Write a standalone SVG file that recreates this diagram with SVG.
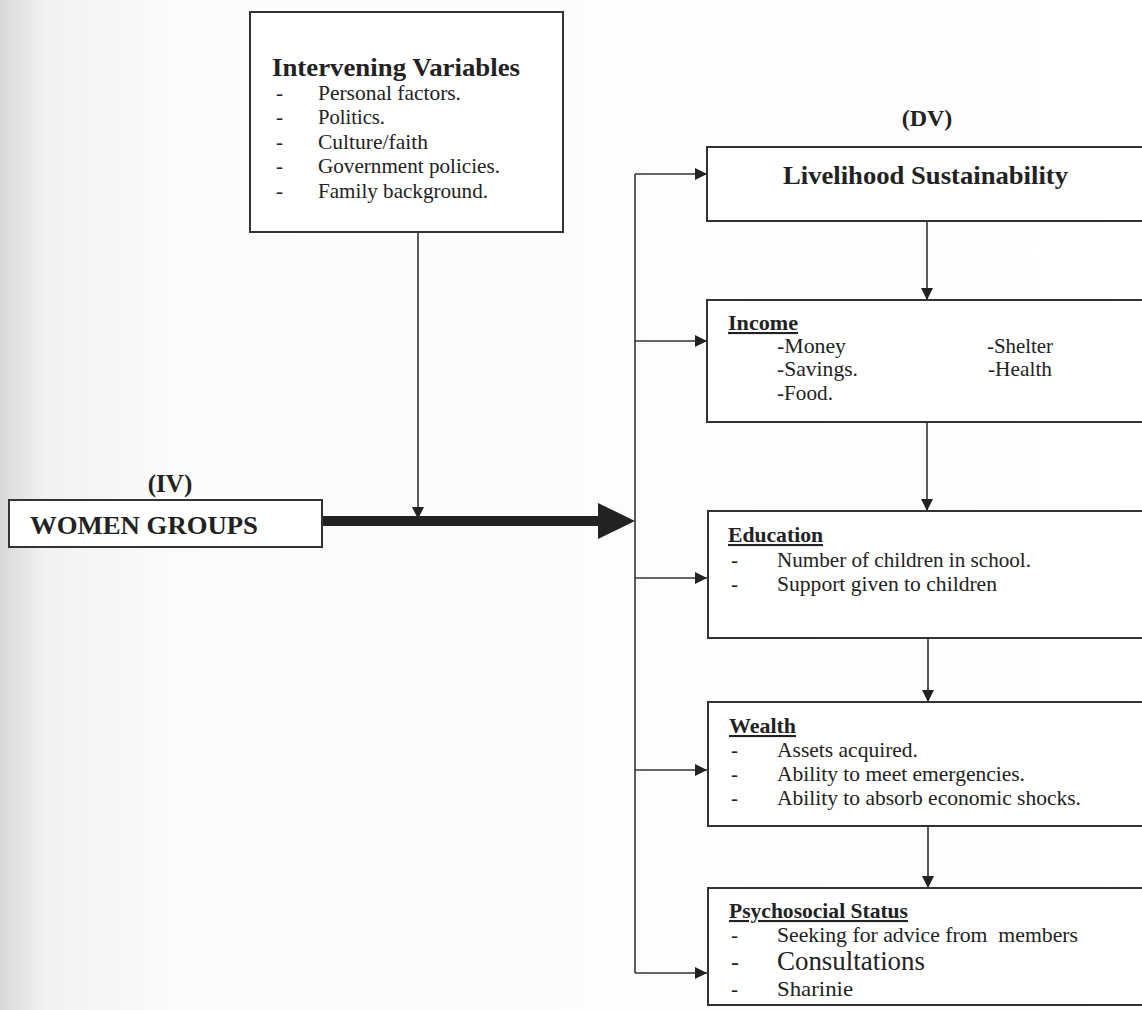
<svg xmlns="http://www.w3.org/2000/svg" width="1142" height="1010" viewBox="0 0 1142 1010">
<defs>
<linearGradient id="scan" x1="0" y1="0" x2="1" y2="0">
<stop offset="0" stop-color="#d8d8d8"/>
<stop offset="0.04" stop-color="#f2f2f2"/>
<stop offset="0.15" stop-color="#fbfbfb"/>
<stop offset="1" stop-color="#ffffff"/>
</linearGradient>
<marker id="ah" viewBox="0 0 10 10" refX="10" refY="5" markerWidth="12" markerHeight="12" markerUnits="userSpaceOnUse" orient="auto">
<path d="M0,0 L10,5 L0,10 z" fill="#222"/>
</marker>
</defs>
<style>
.box{fill:#fff;stroke:#333;stroke-width:2}
.t{font-family:"Liberation Serif","Times New Roman",serif;fill:#222}
.h{font-weight:bold;font-size:26px}
.s{font-size:21px}
.u{font-weight:bold;font-size:21px;text-decoration:underline}
.ln{stroke:#333;stroke-width:1.6;fill:none}
</style>
<rect x="0" y="0" width="1142" height="1010" fill="url(#scan)"/>

<g id="connectors">
<line class="ln" x1="418" y1="232" x2="418" y2="519" marker-end="url(#ah)"/>
<line x1="322" y1="521" x2="600" y2="521" stroke="#222" stroke-width="10"/>
<path d="M598,503 L635,521 L598,539 z" fill="#222"/>
<line class="ln" x1="635" y1="174" x2="635" y2="973"/>
<line class="ln" x1="635" y1="174" x2="707" y2="174" marker-end="url(#ah)"/>
<line class="ln" x1="635" y1="341" x2="707" y2="341" marker-end="url(#ah)"/>
<line class="ln" x1="635" y1="578" x2="707" y2="578" marker-end="url(#ah)"/>
<line class="ln" x1="635" y1="770" x2="707" y2="770" marker-end="url(#ah)"/>
<line class="ln" x1="635" y1="973" x2="707" y2="973" marker-end="url(#ah)"/>
<line class="ln" x1="927" y1="221" x2="927" y2="300" marker-end="url(#ah)"/>
<line class="ln" x1="927" y1="422" x2="927" y2="511" marker-end="url(#ah)"/>
<line class="ln" x1="928" y1="638" x2="928" y2="702" marker-end="url(#ah)"/>
<line class="ln" x1="928" y1="826" x2="928" y2="888" marker-end="url(#ah)"/>
</g>

<g id="intervening">
<rect class="box" x="250" y="12" width="313" height="220"/>
<text class="t h" x="272" y="76" textLength="248" lengthAdjust="spacingAndGlyphs">Intervening Variables</text>
<g class="t s">
<text x="276" y="100">-</text><text x="318" y="100" textLength="143" lengthAdjust="spacingAndGlyphs">Personal factors.</text>
<text x="276" y="124">-</text><text x="318" y="124" textLength="67" lengthAdjust="spacingAndGlyphs">Politics.</text>
<text x="276" y="149">-</text><text x="318" y="149" textLength="110" lengthAdjust="spacingAndGlyphs">Culture/faith</text>
<text x="276" y="173">-</text><text x="318" y="173" textLength="182" lengthAdjust="spacingAndGlyphs">Government policies.</text>
<text x="276" y="198">-</text><text x="318" y="198" textLength="170" lengthAdjust="spacingAndGlyphs">Family background.</text>
</g>
</g>

<g id="iv">
<text class="t" x="170" y="492" text-anchor="middle" font-weight="bold" font-size="25">(IV)</text>
<rect class="box" x="9" y="500" width="313" height="47"/>
<text class="t" x="30" y="534" font-weight="bold" font-size="25" textLength="228" lengthAdjust="spacingAndGlyphs">WOMEN GROUPS</text>
</g>

<g id="dv-label">
<text class="t" x="927" y="126" text-anchor="middle" font-weight="bold" font-size="24">(DV)</text>
</g>

<g id="livelihood">
<rect class="box" x="707" y="147" width="440" height="74"/>
<text class="t h" x="783" y="184" textLength="285" lengthAdjust="spacingAndGlyphs">Livelihood Sustainability</text>
</g>

<g id="income">
<rect class="box" x="707" y="300" width="440" height="122"/>
<text class="t u" x="728" y="330" textLength="70" lengthAdjust="spacingAndGlyphs">Income</text>
<g class="t s">
<text x="777" y="353" textLength="69" lengthAdjust="spacingAndGlyphs">-Money</text>
<text x="777" y="376" textLength="81" lengthAdjust="spacingAndGlyphs">-Savings.</text>
<text x="777" y="400" textLength="56" lengthAdjust="spacingAndGlyphs">-Food.</text>
<text x="987" y="353" textLength="66" lengthAdjust="spacingAndGlyphs">-Shelter</text>
<text x="988" y="376" textLength="64" lengthAdjust="spacingAndGlyphs">-Health</text>
</g>
</g>

<g id="education">
<rect class="box" x="708" y="511" width="440" height="127"/>
<text class="t u" x="728" y="542" textLength="95" lengthAdjust="spacingAndGlyphs">Education</text>
<g class="t s">
<text x="731" y="567">-</text><text x="777" y="567" textLength="254" lengthAdjust="spacingAndGlyphs">Number of children in school.</text>
<text x="731" y="591">-</text><text x="777" y="591" textLength="220" lengthAdjust="spacingAndGlyphs">Support given to children</text>
</g>
</g>

<g id="wealth">
<rect class="box" x="708" y="702" width="440" height="124"/>
<text class="t u" x="729" y="733" textLength="67" lengthAdjust="spacingAndGlyphs">Wealth</text>
<g class="t s">
<text x="731" y="757">-</text><text x="777" y="757" textLength="141" lengthAdjust="spacingAndGlyphs">Assets acquired.</text>
<text x="731" y="781">-</text><text x="777" y="781" textLength="248" lengthAdjust="spacingAndGlyphs">Ability to meet emergencies.</text>
<text x="731" y="805">-</text><text x="777" y="805" textLength="304" lengthAdjust="spacingAndGlyphs">Ability to absorb economic shocks.</text>
</g>
</g>

<g id="psychosocial">
<rect class="box" x="708" y="888" width="440" height="117"/>
<text class="t u" x="729" y="918" textLength="179" lengthAdjust="spacingAndGlyphs">Psychosocial Status</text>
<g class="t s">
<text x="731" y="942">-</text><text x="777" y="942" xml:space="preserve" textLength="301" lengthAdjust="spacingAndGlyphs">Seeking for advice from  members</text>
<text x="731" y="970" font-size="24">-</text><text x="777" y="970" font-size="27" textLength="148" lengthAdjust="spacingAndGlyphs">Consultations</text>
<text x="731" y="996">-</text><text x="777" y="996" textLength="76" lengthAdjust="spacingAndGlyphs">Sharinie</text>
</g>
</g>
</svg>
